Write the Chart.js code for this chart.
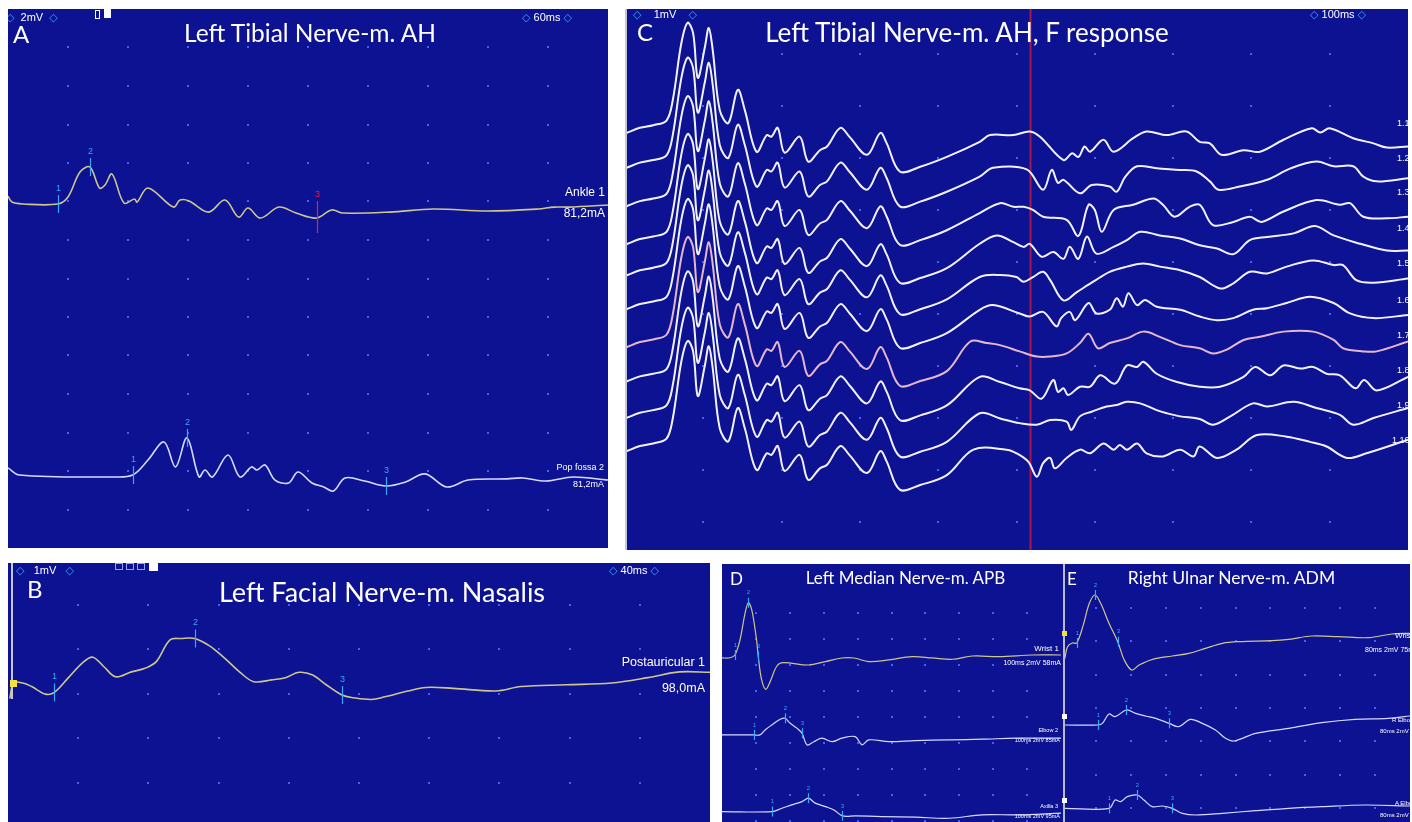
<!DOCTYPE html>
<html>
<head>
<meta charset="utf-8">
<script src="https://cdn.jsdelivr.net/npm/chart.js@4.4.0/dist/chart.umd.min.js"></script>
<style>
body { margin:0; background:#fff; width:1412px; height:822px; position:relative; overflow:hidden; font-family:"Liberation Sans", Arial, sans-serif; }
.panel { position:absolute; background:#0c1291; overflow:hidden; }
.panel canvas { position:absolute; left:0; top:0; }
.t { position:absolute; color:#fff; white-space:nowrap; line-height:1; }
.title { font-family:Lato, "Open Sans", sans-serif; }
.small { font-family:"Liberation Sans Narrow", "Liberation Sans", sans-serif; }
.hdr { font-family:"Liberation Sans Narrow", "Liberation Sans", sans-serif; font-size:11px; }
.dia { color:#3aa8ff; font-family:"DejaVu Sans", sans-serif; font-size:11px; }
.sq { position:absolute; box-sizing:border-box; }
</style>
</head>
<body>

<div class="panel" style="left:8px;top:9px;width:600px;height:539px">
  <canvas id="chartA" width="600" height="539"></canvas>
  <div class="t title" style="left:5px;top:13px;font-size:24px">A</div>
  <div class="t title" style="left:302px;top:12px;font-size:24.5px;transform:translateX(-50%)">Left Tibial Nerve-m. AH</div>
  <div class="t hdr" style="left:-2px;top:2.5px"><span class="dia">◇</span>&nbsp;&nbsp;2mV&nbsp;&nbsp;<span class="dia">◇</span></div>
  <div class="sq" style="left:87px;top:1px;width:5px;height:9px;border:1px solid #fff"></div>
  <div class="sq" style="left:96px;top:0px;width:7px;height:9px;background:#fff"></div>
  <div class="t hdr" style="left:514px;top:2.5px"><span class="dia">◇</span>&nbsp;60ms&nbsp;<span class="dia">◇</span></div>
  <div class="t small" style="right:3px;top:177px;font-size:12px">Ankle 1</div>
  <div class="t small" style="right:3px;top:198px;font-size:12px">81,2mA</div>
  <div class="t small" style="right:4px;top:453.5px;font-size:9px">Pop fossa 2</div>
  <div class="t small" style="right:4px;top:470.5px;font-size:9px">81,2mA</div>
</div>

<div class="panel" style="left:625px;top:9px;width:783px;height:541px">
  <canvas id="chartC" width="783" height="541"></canvas>
  <div class="sq" style="left:0;top:0;width:2px;height:541px;background:#c4c6dc"></div>
  <div class="t title" style="left:12px;top:10.5px;font-size:24px">C</div>
  <div class="t title" style="left:342px;top:9.5px;font-size:26px;transform:translateX(-50%)">Left Tibial Nerve-m. AH, F response</div>
  <div class="t hdr" style="left:8px;top:-0.5px"><span class="dia">◇</span>&nbsp;&nbsp;&nbsp;&nbsp;1mV&nbsp;&nbsp;&nbsp;&nbsp;<span class="dia">◇</span></div>
  <div class="t hdr" style="left:685px;top:-0.5px"><span class="dia">◇</span>&nbsp;100ms&nbsp;<span class="dia">◇</span></div>
  <div class="t small" style="left:772px;top:109.5px;font-size:9px">1.1</div>
  <div class="t small" style="left:772px;top:144.5px;font-size:9px">1.2</div>
  <div class="t small" style="left:772px;top:178.5px;font-size:9px">1.3</div>
  <div class="t small" style="left:772px;top:214.5px;font-size:9px">1.4</div>
  <div class="t small" style="left:772px;top:249.5px;font-size:9px">1.5</div>
  <div class="t small" style="left:772px;top:286.5px;font-size:9px">1.6</div>
  <div class="t small" style="left:772px;top:321.5px;font-size:9px">1.7</div>
  <div class="t small" style="left:772px;top:356.5px;font-size:9px">1.8</div>
  <div class="t small" style="left:772px;top:391.5px;font-size:9px">1.9</div>
  <div class="t small" style="left:767px;top:426.5px;font-size:9px">1.10</div>
</div>

<div class="panel" style="left:8px;top:563px;width:702px;height:259px">
  <canvas id="chartB" width="702" height="259"></canvas>
  <div class="sq" style="left:3px;top:0;width:2px;height:136px;background:#c4c6dc"></div>
  <div class="sq" style="left:2px;top:117px;width:7px;height:7px;background:#f2e23a"></div>
  <div class="t title" style="left:19px;top:14px;font-size:24px">B</div>
  <div class="t title" style="left:374px;top:15px;font-size:27px;transform:translateX(-50%)">Left Facial Nerve-m. Nasalis</div>
  <div class="t hdr" style="left:8px;top:1.5px"><span class="dia">◇</span>&nbsp;&nbsp;&nbsp;1mV&nbsp;&nbsp;&nbsp;<span class="dia">◇</span></div>
  <div class="sq" style="left:107px;top:0;width:8px;height:7px;border:1px solid #8fa0ff"></div>
  <div class="sq" style="left:118px;top:0;width:8px;height:7px;border:1px solid #8fa0ff"></div>
  <div class="sq" style="left:129px;top:0;width:8px;height:7px;border:1px solid #8fa0ff"></div>
  <div class="sq" style="left:141px;top:-1px;width:9px;height:9px;background:#fff"></div>
  <div class="t hdr" style="left:601px;top:1.5px"><span class="dia">◇</span>&nbsp;40ms&nbsp;<span class="dia">◇</span></div>
  <div class="t small" style="right:5px;top:93px;font-size:12.5px">Postauricular 1</div>
  <div class="t small" style="right:5px;top:119px;font-size:12.5px">98,0mA</div>
</div>

<div class="panel" style="left:722px;top:564px;width:339px;height:258px">
  <canvas id="chartD" width="339" height="258"></canvas>
  <div class="t title" style="left:8px;top:6px;font-size:17px">D</div>
  <div class="t title" style="left:183.5px;top:5px;font-size:17px;transform:translateX(-50%)">Left Median Nerve-m. APB</div>
  <div class="t small" style="right:2px;top:81px;font-size:8px">Wrist 1</div>
  <div class="t small" style="right:0px;top:94.5px;font-size:7px">100ms 2mV 58mA</div>
  <div class="t small" style="right:3px;top:164px;font-size:5.5px">Elbow 2</div>
  <div class="t small" style="right:1px;top:174px;font-size:5.5px">100ms 2mV 85mA</div>
  <div class="t small" style="right:3px;top:240px;font-size:5.5px">Axilla 3</div>
  <div class="t small" style="right:1px;top:250px;font-size:5.5px">100ms 2mV 95mA</div>
</div>

<div class="panel" style="left:1061px;top:564px;width:349px;height:258px">
  <canvas id="chartE" width="349" height="258"></canvas>
  <div class="sq" style="left:2px;top:0;width:2px;height:258px;background:#b8bad0"></div>
  <div class="sq" style="left:1px;top:67px;width:5px;height:5px;background:#f2e23a"></div>
  <div class="sq" style="left:1px;top:150px;width:5px;height:5px;background:#fff"></div>
  <div class="sq" style="left:1px;top:234px;width:5px;height:5px;background:#fff"></div>
  <div class="t title" style="left:6px;top:6px;font-size:17px">E</div>
  <div class="t title" style="left:170.5px;top:5px;font-size:17.5px;transform:translateX(-50%)">Right Ulnar Nerve-m. ADM</div>
  <div class="t small" style="left:334px;top:68px;font-size:8px">Wrist 1</div>
  <div class="t small" style="left:304px;top:81.5px;font-size:7px">80ms 2mV 75mA</div>
  <div class="t small" style="left:331px;top:153px;font-size:6px">R Elbow 2</div>
  <div class="t small" style="left:319px;top:164px;font-size:6px">80ms 2mV 75mA</div>
  <div class="t small" style="left:334px;top:236px;font-size:6px">A Elbow 3</div>
  <div class="t small" style="left:319px;top:248px;font-size:6px">80ms 2mV 75mA</div>
</div>

<script>
// A: tibial nerve, time in ms, amplitude in mV (2 mV/div, 60 ms sweep)
const tibialAnkle = [[0,0.4],[0.4,0.1],[1.5,0],[5.0,0],[6.0,0.36],[7.2,1.66],[8.2,1.92],[9.15,0.83],[9.7,0.99],[10.4,1.56],[11.6,0.05],[12.65,0.26],[12.9,0.1],[14.0,0.83],[16.55,-0.16],[17.2,0.21],[18.1,0.16],[20.06,-0.42],[21.7,0.21],[23.07,-0.68],[24.0,-0.21],[25.25,-0.73],[27.1,-0.16],[28.8,-0.47],[30.87,-0.73],[32.35,-0.31],[33.5,-0.47],[38.2,-0.42],[42.5,-0.26],[47.95,-0.36],[53.0,-0.26],[54.6,-0.16],[56.1,-0.16],[60.0,-0.05]];
const tibialPopliteal = [[0,0.47],[1.15,0.1],[10.5,0],[12.46,0.1],[14.0,0.88],[15.6,1.82],[16.75,0.52],[17.9,2.03],[19.1,0],[19.7,0.36],[20.45,0],[22.0,1.14],[23.2,0],[24.35,0.52],[24.9,0.36],[25.7,0.62],[26.7,-0.16],[28.06,-0.31],[29.0,0.26],[30.4,-0.31],[31.57,-0.52],[32.55,-0.73],[33.7,-0.05],[35.66,-0.21],[37.8,-0.47],[39.76,-0.26],[41.7,0.16],[43.86,-0.52],[46.0,-0.16],[49.9,-0.1],[51.46,-0.05],[53.8,-0.21],[56.5,0],[60.0,-0.16]];
const ankleMarks = [[5.0,"1"],[8.2,"2"],[30.87,"3","#e8203c"]];
const poplitealMarks = [[12.46,"1"],[17.9,"2"],[37.8,"3"]];
const tibialOffsets = [-10.13, -24.31];

// B: facial nerve (1 mV/div, 40 ms sweep)
const facialPostauricular = [[0.1,-0.35],[0.32,0],[0.84,0],[1.35,-0.08],[2.13,-0.25],[2.64,-0.21],[3.42,0.11],[4.32,0.48],[4.84,0.58],[5.48,0.36],[6.13,0.14],[7.03,0.25],[7.81,0.33],[8.45,0.48],[9.23,0.97],[9.87,1.0],[10.64,1.0],[11.42,0.85],[11.93,0.7],[12.45,0.52],[13.22,0.24],[14.0,0.03],[15.03,0.07],[15.81,0.12],[16.58,0.24],[17.36,0.18],[18.13,-0.04],[19.03,-0.27],[19.68,-0.33],[20.71,-0.37],[21.48,-0.31],[22.78,-0.18],[23.81,-0.1],[25.36,-0.12],[27.8,-0.18],[29.23,-0.08],[31.8,-0.04],[34.39,0],[36.46,0.12],[38.26,0.25],[40,0.24]];
const facialMarks = [[2.64,"1"],[10.64,"2"],[19.03,"3"]];

// C: F responses, 10 sweeps (1 mV/div, 100 ms sweep)
const cMwave = [[0.2,0],[1.9,0.1],[3.6,0.15],[5.3,0.24],[6.1,0.63],[7.2,1.73],[8.0,2.12],[8.7,1.92],[9.3,1.06],[10.2,1.65],[10.7,2.02],[11.2,1.6],[12.1,0.44],[13.2,0.19],[14.4,0.83],[15.3,0.44],[16.8,-0.36],[18.1,-0.04],[18.7,-0.07],[19.5,0.1],[20.4,-0.38],[22.3,-0.07],[23.4,-0.55],[24.9,-0.33],[25.8,-0.26],[27.5,0.1],[28.7,-0.08],[30.9,-0.42],[32.6,0],[33.4,-0.19],[35.1,-0.74],[37.7,-0.65],[41.1,-0.46]];
const cLate1 = [[45.3,-0.17],[46.6,-0.04],[49.6,-0.04],[51.7,0.03],[53.0,-0.07],[56.0,-0.52],[57.1,-0.39],[57.9,-0.46],[58.7,-0.26],[59.4,-0.36],[61.1,-0.13],[62.4,-0.36],[64.9,-0.1],[66.6,0.03],[69.2,-0.04],[71.7,0.03],[73.4,-0.17],[74.7,-0.2],[76.2,-0.42],[79.0,-0.33],[81.1,-0.36],[84.1,-0.13],[87.7,0.09],[88.8,0.01],[90.0,0.09],[93.0,-0.1],[95.6,-0.2],[97.3,-0.28],[100,-0.26]];
const cLate2 = [[45.3,-0.17],[47.0,0],[51.3,-0.03],[53.4,-0.42],[54.5,-0.04],[55.3,-0.29],[56.0,-0.23],[58.1,-0.49],[59.6,-0.33],[61.9,-0.36],[62.8,-0.46],[63.9,-0.17],[65.4,0.03],[67.9,-0.01],[70.9,-0.04],[73.0,-0.07],[74.7,-0.26],[75.8,-0.42],[78.5,-0.36],[82.0,-0.23],[85.0,-0.01],[88.3,0.12],[90.5,0.03],[93.0,0.03],[94.3,-0.17],[96.0,-0.26],[100,-0.2]];
const cLate3 = [[45.3,-0.13],[47.9,0.06],[49.6,-0.01],[50.9,-0.01],[52.1,-0.07],[53.4,-0.2],[56.4,-0.26],[57.9,-0.57],[59.2,0.03],[60.0,-0.07],[60.9,-0.49],[62.4,-0.07],[64.9,0.03],[67.5,0.15],[68.7,0.03],[70.2,-0.2],[72.1,-0.01],[73.4,0.03],[75.1,-0.36],[77.7,-0.3],[79.8,-0.2],[81.3,-0.3],[84.1,-0.1],[88.3,0.12],[91.3,0.03],[92.6,0.06],[94.3,-0.2],[97.3,-0.23],[100,-0.2]];
const cLate4 = [[45.3,0.01],[47.5,0.17],[49.6,0.04],[50.9,-0.05],[51.7,0.01],[53.2,-0.24],[54.7,-0.15],[56.0,-0.28],[56.8,-0.05],[57.9,-0.28],[59.0,0.15],[60.2,-0.18],[62.4,-0.05],[64.1,0.08],[65.8,0.24],[68.3,0.17],[70.9,0.11],[73.4,-0.02],[75.6,-0.08],[77.7,-0.19],[79.8,0.08],[82.0,0.14],[85.4,0.21],[88.1,0.35],[90.5,0.17],[93.9,0.01],[97.3,-0.12],[100,-0.12]];
const cLate5 = [[45.3,-0.03],[47.9,0.01],[50.0,-0.03],[50.9,-0.12],[52.1,-0.03],[53.4,0.07],[54.3,-0.09],[56.0,-0.48],[57.7,-0.32],[59.8,-0.12],[61.9,0.07],[64.1,0.17],[66.2,0.23],[68.3,0.17],[70.9,0.1],[73.4,-0.03],[76.0,-0.25],[77.7,-0.15],[79.8,0.07],[82.0,0.04],[84.5,0.17],[87.9,0.29],[90.5,0.2],[91.7,0.2],[93.4,-0.09],[95.6,-0.14],[100,-0.06]];
const cLate6 = [[45.3,-0.01],[47.0,0.08],[50.4,-0.08],[51.7,-0.14],[53.4,-0.05],[55.1,-0.33],[55.7,-0.17],[56.8,-0.05],[57.5,-0.21],[59.2,0.12],[60.2,-0.08],[61.9,-0.01],[62.8,0.21],[63.6,0.05],[64.3,0.31],[65.4,0.08],[66.4,0.18],[67.9,0.05],[70.9,-0.01],[73.4,-0.14],[75.6,-0.21],[77.7,-0.17],[80.2,-0.01],[82.0,0.02],[84.5,0.12],[87.5,0.24],[90.5,0.12],[92.6,-0.08],[95.6,-0.17],[100,-0.11]];
const cLate7 = [[44.1,0.11],[46.2,0.08],[47.9,0.04],[50.4,-0.08],[52.6,-0.18],[54.3,-0.18],[56.4,-0.12],[58.1,0.08],[59.2,0.26],[60.4,-0.02],[61.9,0.08],[64.1,0.17],[66.2,0.3],[68.3,0.2],[70.9,0.04],[73.4,-0.02],[75.1,-0.12],[76.8,-0.05],[79.0,0.14],[81.1,0.2],[84.1,0.3],[87.9,0.3],[90.5,0.14],[91.7,-0.02],[94.3,-0.08],[96.0,-0.08],[100,0.11]];
const cLate8 = [[45.3,0.09],[47.9,-0.01],[50.4,-0.13],[51.7,-0.17],[53.2,-0.33],[54.7,0.03],[55.3,-0.2],[56.0,-0.13],[56.6,-0.26],[58.1,-0.1],[59.4,-0.1],[60.7,0.12],[62.6,-0.04],[64.1,0.31],[65.4,0.28],[66.2,0.38],[67.9,0.15],[70.5,-0.01],[73.4,-0.1],[76.0,-0.1],[79.0,0.09],[80.5,0.28],[82.4,0.12],[84.1,0.31],[86.2,0.25],[87.9,0.28],[89.6,0.15],[91.3,0.12],[93.3,-0.13],[94.4,0.03],[96.0,-0.17],[100,0.09]];
const cLate9 = [[45.3,0.09],[47.9,-0.01],[50.4,-0.1],[52.6,-0.13],[54.3,-0.04],[56.4,-0.07],[57.0,-0.23],[58.1,0.03],[59.6,0.12],[61.5,0.22],[62.8,0.25],[64.1,0.31],[65.8,0.28],[67.9,0.15],[69.2,0.09],[70.9,0.03],[73.4,-0.02],[75.1,-0.13],[77.3,0.03],[80.2,0.28],[82.0,0.22],[85.4,0.31],[88.3,0.19],[91.3,0.06],[93.0,-0.13],[95.6,0],[100,0.19]];
const cLate10 = [[44.5,0.03],[48.7,0.03],[50.0,-0.04],[51.5,-0.2],[52.6,-0.49],[53.4,-0.23],[54.3,-0.13],[54.9,-0.33],[56.4,-0.13],[58.1,0.03],[59.4,-0.04],[61.1,0.15],[62.4,0.03],[63.2,0.12],[64.1,0.03],[65.4,0.15],[66.6,-0.04],[68.7,-0.1],[70.9,0.03],[72.6,-0.1],[73.4,0.09],[75.6,-0.13],[78.1,0.03],[80.7,0.31],[84.5,0.28],[87.5,0.18],[89.6,0.09],[92.2,-0.13],[94.7,-0.04],[100,0.22]];
const cLateParts = [cLate1, cLate2, cLate3, cLate4, cLate5, cLate6, cLate7, cLate8, cLate9, cLate10];
const cOffsets = [0, -0.67, -1.41, -2.14, -2.74, -3.39, -4.12, -4.78, -5.48, -6.12];
const cCursorMs = 51.7;

// D: median nerve (2 mV/div, 100 ms sweep)
const medianWrist = [[0,0],[2.4,0.02],[3.8,0.23],[5.3,1.38],[6.8,3.44],[7.8,4.25],[8.8,3.69],[10.2,1.38],[10.7,0.1],[11.7,-1.69],[12.9,-2.41],[14.2,-1.82],[16.2,-0.62],[18.1,-0.36],[25.5,-0.54],[30.5,-0.28],[35.4,0],[38.9,0],[43.3,-0.28],[49.2,-0.15],[56.1,0.1],[62.0,0],[68.0,-0.1],[73.9,0.15],[81.7,0.1],[91.6,0.23],[100,0.23]];
const medianElbow = [[0,0],[9.3,0],[11.2,0],[12.7,0.38],[14.7,0.77],[17.2,1.21],[18.6,1.28],[20.1,0.9],[22.1,0.52],[23.6,0.13],[25.1,-0.77],[27.1,-0.52],[29.5,-0.25],[32.5,-0.52],[35.4,-0.25],[39.3,-0.13],[41.3,-0.77],[43.3,-0.38],[49.2,-0.52],[57.1,-0.44],[67.0,-0.38],[76.8,-0.33],[86.7,-0.25],[100,-0.25]];
const medianAxilla = [[0,0],[14.7,0],[17.7,0.26],[20.6,0.52],[23.6,0.77],[25.5,1.03],[27.5,0.65],[30.5,0.38],[33.0,0.13],[35.5,-0.33],[39.3,-0.33],[47.2,-0.38],[57.1,-0.43],[67.0,-0.51],[76.8,-0.25],[86.7,-0.25],[100,-0.12]];
const medianMarks = [[[3.8,"1"],[7.8,"2"],[10.7,"3"]], [[9.3,"1"],[18.6,"2"],[23.6,"3"]], [[14.7,"1"],[25.5,"2"],[35.5,"3"]]];
const medianOffsets = [0, -5.92, -11.82];

// E: ulnar nerve (2 mV/div, 80 ms sweep)
const ulnarWrist = [[0.9,-0.92],[1.5,-0.22],[2.6,0],[3.6,0],[5.0,0.98],[6.5,2.38],[7.8,2.88],[9.1,2.38],[11.0,1.18],[13.0,0.08],[14.5,-1.02],[16.2,-1.62],[17.9,-1.32],[21.0,-0.98],[25.5,-0.78],[29.3,-0.62],[33.1,-0.32],[37.0,-0.02],[40.8,0.08],[48.4,0.14],[52.2,0.22],[57.5,0.42],[63.6,0.38],[70.5,0.32],[75.8,0.54],[80,0.58]];
const ulnarBelowElbow = [[0.9,0],[8.4,0],[9.5,0.1],[11.0,0.66],[12.4,0.5],[15.0,0.9],[17.1,0.7],[19.4,0.54],[21.7,0.4],[24.8,0.1],[27.0,-0.1],[29.7,0.34],[32.4,0.1],[35.4,-0.3],[37.7,-0.8],[39.6,-0.96],[44.6,-0.5],[52.2,-0.2],[59.8,0.14],[67.4,0.34],[75.0,0.4],[80,0.54]];
const ulnarAboveElbow = [[0.9,0],[11.0,0],[12.4,0.5],[13.7,0.4],[15.2,0.7],[17.5,0.8],[19.0,0.5],[20.9,0.1],[23.2,0.14],[25.5,0],[27.8,-0.3],[30.9,-0.4],[37.0,-0.3],[44.6,-0.14],[52.2,0],[59.8,0.1],[69.7,0.2],[80,0.14]];
const ulnarMarks = [[[3.6,"1"],[7.8,"2"],[13.0,"3"]], [[8.4,"1"],[15.0,"2"],[24.8,"3"]], [[11.0,"1"],[17.5,"2"],[25.5,"3"]]];
const ulnarOffsets = [0, -4.92, -9.92];

const YELLOW = "#cdc68e";
const LAVENDER = "#d6daff";
const CYAN = "#3aa8f2";

function trace(points, offset, color, width, marks) {
    return {
        data: points.map(p => ({ x: p[0], y: p[1] + offset })),
        borderColor: color,
        borderWidth: width,
        markers: (marks || []).map(m => ({ t: m[0], label: m[1], color: m[2] || CYAN }))
    };
}

// dotted screen grid, sweep cursor and cursor markers
const screenPlugin = {
    id: "screen",
    beforeDatasetsDraw(chart, args, opts) {
        const ctx = chart.ctx;
        const x = chart.scales.x, y = chart.scales.y;
        ctx.save();
        ctx.fillStyle = opts.dotColor;
        for (let t = opts.xStep; t < x.max - 0.01; t += opts.xStep) {
            for (let v = opts.yFirst; v > y.min; v -= opts.yStep) {
                ctx.fillRect(Math.round(x.getPixelForValue(t)) - 1, Math.round(y.getPixelForValue(v)) - 1, 2, 2);
            }
        }
        if (opts.cursor !== undefined) {
            const cx = Math.round(x.getPixelForValue(opts.cursor)) + 0.5;
            ctx.strokeStyle = "#a3184e";
            ctx.lineWidth = 2;
            ctx.beginPath();
            ctx.moveTo(cx, chart.chartArea.top);
            ctx.lineTo(cx, chart.chartArea.bottom);
            ctx.stroke();
        }
        ctx.restore();
    },
    afterDatasetsDraw(chart, args, opts) {
        const ctx = chart.ctx;
        const x = chart.scales.x, y = chart.scales.y;
        ctx.save();
        ctx.font = opts.markFont || "9px Liberation Sans";
        ctx.textAlign = "center";
        ctx.textBaseline = "bottom";
        chart.data.datasets.forEach(ds => {
            (ds.markers || []).forEach(m => {
                let pt = ds.data[0];
                ds.data.forEach(p => { if (Math.abs(p.x - m.t) < Math.abs(pt.x - m.t)) pt = p; });
                const px = Math.round(x.getPixelForValue(pt.x)) + 0.5;
                const py = y.getPixelForValue(pt.y);
                const up = m.color === CYAN ? opts.tickUp : opts.tickUp + 8;
                const down = m.color === CYAN ? opts.tickDown : opts.tickDown + 6;
                ctx.strokeStyle = m.color;
                ctx.fillStyle = m.color;
                ctx.lineWidth = 1.2;
                ctx.beginPath();
                ctx.moveTo(px, py - up);
                ctx.lineTo(px, py + down);
                ctx.stroke();
                ctx.fillText(m.label, px, py - up - 2);
            });
        });
        ctx.restore();
    }
};

function drawScreen(id, xMax, yMax, yMin, screen, datasets) {
    return new Chart(document.getElementById(id), {
        type: "line",
        data: { datasets: datasets },
        options: {
            responsive: false,
            animation: false,
            devicePixelRatio: 1,
            events: [],
            elements: { point: { radius: 0 }, line: { tension: 0.35, fill: false } },
            scales: {
                x: { type: "linear", display: false, min: 0, max: xMax },
                y: { type: "linear", display: false, min: yMin, max: yMax }
            },
            plugins: { legend: { display: false }, tooltip: { enabled: false }, screen: screen }
        },
        plugins: [screenPlugin]
    });
}

drawScreen("chartA", 60, 0, -28,
    { dotColor: "#4460f4", xStep: 6, yFirst: -2, yStep: 2, tickUp: 9, tickDown: 9 },
    [
        trace(tibialAnkle, tibialOffsets[0], YELLOW, 1.6, ankleMarks),
        trace(tibialPopliteal, tibialOffsets[1], LAVENDER, 1.6, poplitealMarks)
    ]);

const cDatasets = cLateParts.map((late, i) =>
    trace(cMwave.concat(late), cOffsets[i], i === 6 ? "#e6b6cc" : "#f2f2ff", 2));
drawScreen("chartC", 100, 2.385, -8.02,
    { dotColor: "#4460f4", xStep: 10, yFirst: 1.519, yStep: 1, cursor: cCursorMs },
    cDatasets);

drawScreen("chartB", 40, 2.697, -3.124,
    { dotColor: "#4460f4", xStep: 4, yFirst: 1.753, yStep: 1, tickUp: 9, tickDown: 9, markFont: "9px Liberation Sans" },
    [trace(facialPostauricular, 0, YELLOW, 1.6, facialMarks)]);

drawScreen("chartD", 100, 7.23, -12.62,
    { dotColor: "#4460f4", xStep: 10, yFirst: 3.46, yStep: 2, tickUp: 5, tickDown: 5, markFont: "6px Liberation Sans" },
    [
        trace(medianWrist, medianOffsets[0], YELLOW, 1.2, medianMarks[0]),
        trace(medianElbow, medianOffsets[1], LAVENDER, 1.2, medianMarks[1]),
        trace(medianAxilla, medianOffsets[2], LAVENDER, 1.2, medianMarks[2])
    ]);

drawScreen("chartE", 80, 4.74, -10.74,
    { dotColor: "#4460f4", xStep: 8, yFirst: 2.1, yStep: 2, tickUp: 5, tickDown: 5, markFont: "6px Liberation Sans" },
    [
        trace(ulnarWrist, ulnarOffsets[0], YELLOW, 1.2, ulnarMarks[0]),
        trace(ulnarBelowElbow, ulnarOffsets[1], LAVENDER, 1.2, ulnarMarks[1]),
        trace(ulnarAboveElbow, ulnarOffsets[2], LAVENDER, 1.2, ulnarMarks[2])
    ]);
</script>
</body>
</html>
